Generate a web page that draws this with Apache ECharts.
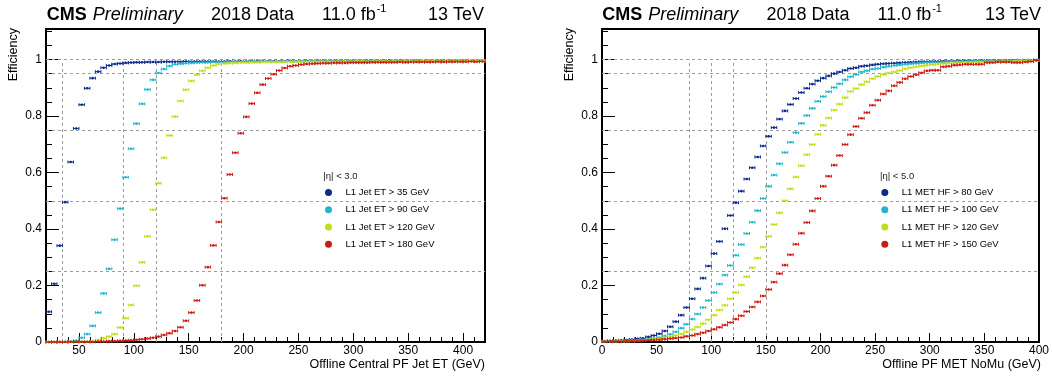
<!DOCTYPE html>
<html><head><meta charset="utf-8">
<script src="https://cdn.jsdelivr.net/npm/echarts@6/dist/echarts.min.js"></script>
<style>html,body{margin:0;padding:0;background:#fff}#c{width:1052px;height:378px}</style>
</head><body><div id="c"></div>
<script>
// ---------------- DATA ----------------
const jetX = [22.5,27.5,32.5,37.5,42.5,47.5,52.5,57.5,62.5,67.5,
72.5,77.5,82.5,87.5,92.5,97.5,102.5,107.5,112.5,117.5,
122.5,127.5,132.5,137.5,142.5,147.5,152.5,157.5,162.5,167.5,
172.5,177.5,182.5,187.5,192.5,197.5,202.5,207.5,212.5,217.5,
222.5,227.5,232.5,237.5,242.5,247.5,252.5,257.5,262.5,267.5,
272.5,277.5,282.5,287.5,292.5,297.5,302.5,307.5,312.5,317.5,
322.5,327.5,332.5,337.5,342.5,347.5,352.5,357.5,362.5,367.5,
372.5,377.5,382.5,387.5,392.5,397.5,402.5,407.5,412.5,417.5];
const jet35 = [0.107,0.206,0.341,0.495,0.637,0.756,0.840,0.898,0.934,0.957,
0.971,0.979,0.984,0.986,0.988,0.989,0.990,0.990,0.991,0.991,
0.991,0.992,0.992,0.992,0.992,0.993,0.992,0.993,0.993,0.993,
0.993,0.993,0.993,0.994,0.993,0.994,0.993,0.994,0.994,0.994,
0.994,0.994,0.994,0.994,0.995,0.994,0.994,0.995,0.994,0.995,
0.995,0.994,0.995,0.995,0.995,0.995,0.995,0.995,0.996,0.995,
0.995,0.995,0.996,0.995,0.996,0.995,0.996,0.996,0.995,0.996,
0.996,0.996,0.995,0.996,0.996,0.996,0.997,0.996,0.996,0.996];
const jet90 = [0.000,0.000,0.001,0.001,0.002,0.005,0.015,0.028,0.057,0.104,
0.172,0.259,0.362,0.472,0.583,0.684,0.773,0.843,0.894,0.928,
0.952,0.966,0.977,0.983,0.985,0.987,0.988,0.989,0.990,0.990,
0.991,0.991,0.991,0.992,0.992,0.992,0.992,0.993,0.992,0.993,
0.993,0.993,0.993,0.993,0.994,0.993,0.994,0.993,0.994,0.994,
0.994,0.994,0.994,0.994,0.995,0.994,0.995,0.994,0.995,0.995,
0.995,0.995,0.994,0.995,0.995,0.995,0.996,0.995,0.995,0.995,
0.996,0.995,0.995,0.996,0.995,0.996,0.996,0.996,0.995,0.996];
const jet120 = [0.000,0.000,0.000,0.000,0.000,0.001,0.001,0.001,0.002,0.007,
0.013,0.019,0.028,0.051,0.084,0.131,0.199,0.282,0.374,0.468,
0.562,0.652,0.731,0.798,0.853,0.893,0.924,0.946,0.960,0.971,
0.979,0.984,0.986,0.987,0.988,0.989,0.989,0.990,0.990,0.991,
0.991,0.991,0.991,0.992,0.992,0.992,0.992,0.993,0.992,0.993,
0.993,0.993,0.993,0.993,0.994,0.993,0.994,0.994,0.993,0.994,
0.994,0.994,0.994,0.995,0.994,0.994,0.995,0.994,0.995,0.995,
0.995,0.995,0.994,0.995,0.995,0.995,0.995,0.996,0.995,0.995];
const jet180 = [0.000,0.000,0.000,0.000,0.001,0.001,0.001,0.001,0.001,0.002,
0.002,0.003,0.003,0.004,0.005,0.006,0.008,0.010,0.012,0.015,
0.019,0.025,0.031,0.039,0.052,0.075,0.104,0.147,0.201,0.265,
0.342,0.425,0.509,0.593,0.670,0.739,0.797,0.844,0.882,0.911,
0.933,0.948,0.961,0.970,0.976,0.979,0.982,0.984,0.985,0.986,
0.987,0.987,0.988,0.988,0.988,0.989,0.989,0.989,0.989,0.990,
0.990,0.990,0.990,0.990,0.991,0.990,0.991,0.991,0.991,0.991,
0.991,0.992,0.991,0.992,0.992,0.992,0.992,0.993,0.992,0.993];

const metX = [2.5,7.5,12.5,17.5,22.5,27.5,32.5,37.5,42.5,47.5,
52.5,57.5,62.5,67.5,72.5,77.5,82.5,87.5,92.5,97.5,
102.5,107.5,112.5,117.5,122.5,127.5,132.5,137.5,142.5,147.5,
152.5,157.5,162.5,167.5,172.5,177.5,182.5,187.5,192.5,197.5,
202.5,207.5,212.5,217.5,222.5,227.5,232.5,237.5,242.5,247.5,
252.5,257.5,262.5,267.5,272.5,277.5,282.5,287.5,292.5,297.5,
302.5,307.5,312.5,317.5,322.5,327.5,332.5,337.5,342.5,347.5,
352.5,357.5,362.5,367.5,372.5,377.5,382.5,387.5,392.5,397.5];
const met80 = [0.003,0.004,0.005,0.006,0.007,0.009,0.011,0.013,0.018,0.023,
0.029,0.039,0.054,0.072,0.095,0.122,0.153,0.188,0.226,0.269,
0.313,0.356,0.401,0.448,0.493,0.534,0.577,0.617,0.655,0.694,
0.728,0.759,0.789,0.818,0.841,0.862,0.883,0.898,0.913,0.925,
0.934,0.942,0.950,0.956,0.962,0.968,0.971,0.976,0.978,0.981,
0.983,0.985,0.986,0.987,0.988,0.989,0.990,0.991,0.992,0.992,
0.993,0.993,0.994,0.994,0.994,0.995,0.995,0.995,0.995,0.996,
0.996,0.996,0.996,0.996,0.997,0.997,0.997,0.997,0.997,0.998];
const met100 = [0.002,0.002,0.003,0.003,0.004,0.005,0.006,0.008,0.010,0.013,
0.016,0.021,0.027,0.036,0.049,0.063,0.081,0.099,0.122,0.147,
0.175,0.205,0.237,0.271,0.307,0.345,0.384,0.424,0.465,0.508,
0.551,0.591,0.631,0.671,0.707,0.741,0.774,0.802,0.827,0.852,
0.869,0.886,0.901,0.914,0.928,0.939,0.947,0.956,0.960,0.966,
0.968,0.973,0.976,0.979,0.981,0.983,0.985,0.986,0.988,0.989,
0.990,0.990,0.991,0.992,0.992,0.993,0.993,0.994,0.994,0.994,
0.995,0.995,0.995,0.995,0.996,0.996,0.996,0.996,0.997,0.997];
const met120 = [0.002,0.002,0.002,0.003,0.003,0.004,0.005,0.006,0.008,0.010,
0.012,0.015,0.019,0.023,0.028,0.036,0.044,0.053,0.065,0.079,
0.095,0.113,0.130,0.153,0.175,0.202,0.231,0.263,0.297,0.336,
0.374,0.416,0.457,0.500,0.542,0.584,0.624,0.663,0.699,0.735,
0.767,0.793,0.821,0.842,0.865,0.887,0.897,0.911,0.921,0.932,
0.940,0.947,0.952,0.956,0.961,0.967,0.971,0.974,0.977,0.980,
0.982,0.984,0.986,0.987,0.988,0.989,0.990,0.990,0.991,0.992,
0.992,0.993,0.993,0.994,0.994,0.994,0.995,0.995,0.995,0.996];
const met150 = [0.001,0.002,0.002,0.002,0.003,0.003,0.004,0.005,0.006,0.007,
0.008,0.010,0.012,0.014,0.016,0.020,0.023,0.028,0.033,0.039,
0.045,0.052,0.060,0.069,0.081,0.093,0.108,0.124,0.142,0.163,
0.186,0.212,0.242,0.272,0.309,0.346,0.385,0.423,0.464,0.508,
0.551,0.587,0.626,0.660,0.699,0.734,0.763,0.792,0.812,0.838,
0.856,0.878,0.889,0.907,0.919,0.932,0.940,0.946,0.953,0.960,
0.962,0.962,0.974,0.976,0.980,0.981,0.983,0.983,0.983,0.983,
0.989,0.989,0.991,0.991,0.991,0.989,0.989,0.991,0.993,0.997];

const jetNames = ['L1 Jet ET > 35 GeV','L1 Jet ET > 90 GeV','L1 Jet ET > 120 GeV','L1 Jet ET > 180 GeV'];
const metNames = ['L1 MET HF > 80 GeV','L1 MET HF > 100 GeV','L1 MET HF > 120 GeV','L1 MET HF > 150 GeV'];
const jetThresholds = [35, 90, 120, 180];
const metThresholds = [80, 100, 120, 150];
const refLevels = [0.25, 0.5, 0.75, 0.95, 1.0];
const jetAxis = {min: 20, max: 420};
const metAxis = {min: 0, max: 400};
const BIN_WIDTH = 5;

// ---------------- STYLE ----------------
const FONT = '"Liberation Sans", Arial, Helvetica, sans-serif';
const COLORS = ['#0b2a8c', '#22b5cc', '#c3dc17', '#cd1c13'];
const YMAX = 1.108;

const chart = echarts.init(document.getElementById('c'), null, {renderer: 'canvas'});

function renderBar(params, api) {
  const x = api.value(0), y = api.value(1);
  const c = api.coord([x, y]);
  const l = api.coord([x - BIN_WIDTH / 2, y]);
  const r = api.coord([x + BIN_WIDTH / 2, y]);
  const color = api.visual('color');
  const st = {stroke: color, lineWidth: 1};
  return {type: 'group', children: [
    {type: 'line', shape: {x1: l[0], y1: c[1], x2: r[0], y2: c[1]}, style: st},
    {type: 'line', shape: {x1: l[0], y1: c[1] - 1.5, x2: l[0], y2: c[1] + 1.5}, style: st},
    {type: 'line', shape: {x1: r[0], y1: c[1] - 1.5, x2: r[0], y2: c[1] + 1.5}, style: st},
    {type: 'circle', shape: {cx: c[0], cy: c[1], r: 1.3}, style: {fill: color}}
  ]};
}

const grids = [
  {left: 46, top: 29, width: 439, height: 313},
  {left: 602, top: 29, width: 439, height: 313}
];

function majorX(gi, ext, extra) {
  return Object.assign({
    gridIndex: gi, type: 'value', min: ext.min, max: ext.max, position: 'bottom',
    axisLine: {show: true, onZero: false, lineStyle: {color: '#000', width: 2}},
    axisTick: {show: true, inside: true, length: 9, lineStyle: {color: '#000', width: 1}},
    axisLabel: {show: true, margin: 3, color: '#000', fontSize: 12, fontFamily: FONT,
      formatter: v => (Math.abs(v % 50) < 1e-6 ? String(v) : '')},
    splitLine: {show: false}
  }, extra);
}
function minorX(gi, ext) {
  return {gridIndex: gi, type: 'value', min: ext.min, max: ext.max, interval: 10, position: 'bottom',
    axisLine: {show: false, onZero: false}, axisLabel: {show: false}, splitLine: {show: false},
    axisTick: {show: true, inside: true, length: 5, lineStyle: {color: '#000', width: 1}}};
}
function majorY(gi) {
  return {gridIndex: gi, type: 'value', min: 0, max: YMAX, interval: 0.2, position: 'left',
    axisLine: {show: true, onZero: false, lineStyle: {color: '#000', width: 2}},
    axisTick: {show: true, inside: true, length: 13, lineStyle: {color: '#000', width: 1}},
    axisLabel: {show: true, margin: 4, color: '#000', fontSize: 12, fontFamily: FONT,
      formatter: v => (v > 1.0001 ? '' : String(Math.round(v * 10) / 10))},
    splitLine: {show: false}};
}
function minorY(gi) {
  return {gridIndex: gi, type: 'value', min: 0, max: YMAX, interval: 0.05, position: 'left',
    axisLine: {show: false, onZero: false}, axisLabel: {show: false}, splitLine: {show: false},
    axisTick: {show: true, inside: true, length: 6, lineStyle: {color: '#000', width: 1}}};
}

function refLines(thresholds) {
  return {
    silent: true, symbol: ['none', 'none'], z: 1, animation: false,
    label: {show: false}, emphasis: {disabled: true},
    lineStyle: {type: [3, 3], color: '#9b9b9b', width: 1},
    data: refLevels.map(v => ({yAxis: v})).concat(
      thresholds.map(t => [{coord: [t, 0]}, {coord: [t, 1]}]))
  };
}

function mkSeries(name, xs, ys, color, xi, yi, markLine) {
  const s = {
    name, type: 'custom', xAxisIndex: xi, yAxisIndex: yi, z: 3,
    itemStyle: {color}, renderItem: renderBar, encode: {x: 0, y: 1},
    data: xs.map((x, i) => [x, ys[i]]), animation: false, silent: true
  };
  if (markLine) s.markLine = markLine;
  return s;
}

const jetSets = [jet35, jet90, jet120, jet180];
const metSets = [met80, met100, met120, met150];
const series = [];
jetSets.forEach((d, i) => series.push(mkSeries(jetNames[i], jetX, d, COLORS[i], 0, 0, i === 0 ? refLines(jetThresholds) : null)));
metSets.forEach((d, i) => series.push(mkSeries(metNames[i], metX, d, COLORS[i], 2, 2, i === 0 ? refLines(metThresholds) : null)));

// text measurement for header layout
const mctx = document.createElement('canvas').getContext('2d');
function tw(text, font) { mctx.font = font; return mctx.measureText(text).width; }

const HS = 18;
function header(cmsX, dataX, lumiX, energyRight) {
  const fBold = 'bold ' + HS + 'px ' + FONT;
  const fIt = 'italic ' + HS + 'px ' + FONT;
  const fN = HS + 'px ' + FONT;
  const y = 15;
  const prelimX = cmsX + tw('CMS', fBold) + 6;
  const supX = lumiX + tw('11.0 fb', fN) + 1;
  const base = {fill: '#000', textVerticalAlign: 'middle', verticalAlign: 'middle'};
  return [
    {type: 'text', x: cmsX, y, style: Object.assign({text: 'CMS', font: fBold, textAlign: 'left', align: 'left'}, base)},
    {type: 'text', x: prelimX, y, style: Object.assign({text: 'Preliminary', font: fIt, textAlign: 'left', align: 'left'}, base)},
    {type: 'text', x: dataX, y, style: Object.assign({text: '2018 Data', font: fN, textAlign: 'left', align: 'left'}, base)},
    {type: 'text', x: lumiX, y, style: Object.assign({text: '11.0 fb', font: fN, textAlign: 'left', align: 'left'}, base)},
    {type: 'text', x: supX, y: 9, style: Object.assign({text: '-1', font: '11px ' + FONT, textAlign: 'left', align: 'left'}, base)},
    {type: 'text', x: energyRight, y, style: Object.assign({text: '13 TeV', font: fN, textAlign: 'right', align: 'right'}, base)}
  ];
}
function sideTexts(effX, xTitleRight, xTitle, legHeadX, legHead) {
  return [
    {type: 'text', x: effX, y: 28, rotation: Math.PI / 2,
      style: {text: 'Efficiency', font: '12.5px ' + FONT, fill: '#000', textAlign: 'right', align: 'right', textVerticalAlign: 'middle', verticalAlign: 'middle'}},
    {type: 'text', x: xTitleRight, y: 365,
      style: {text: xTitle, font: '12.5px ' + FONT, fill: '#000', textAlign: 'right', align: 'right', textVerticalAlign: 'middle', verticalAlign: 'middle'}},
    {type: 'text', x: legHeadX, y: 176,
      style: {text: legHead, font: '9.5px ' + FONT, fill: '#222', textAlign: 'left', align: 'left', textVerticalAlign: 'middle', verticalAlign: 'middle'}}
  ];
}

const graphics = [].concat(
  header(46.7, 211, 322, 484),
  header(602.3, 766.5, 877.5, 1041),
  sideTexts(13.5, 485, 'Offline Central PF Jet ET (GeV)', 323.3, '|η| < 3.0'),
  sideTexts(569.5, 1041, 'Offline PF MET NoMu (GeV)', 880, '|η| < 5.0')
);

function legend(names, left) {
  return {data: names.map(n => ({name: n, icon: 'circle'})), orient: 'vertical', left, top: 184,
    padding: 0, itemGap: 0, itemWidth: 24, itemHeight: 7, selectedMode: false,
    textStyle: {fontSize: 9.5, color: '#000', fontFamily: FONT, lineHeight: 17.2}};
}

chart.setOption({
  animation: false,
  backgroundColor: '#fff',
  grid: grids.map(g => Object.assign({show: true, borderColor: '#000', borderWidth: 2, backgroundColor: 'transparent', containLabel: false}, g)),
  xAxis: [
    majorX(0, jetAxis, {splitNumber: 8}),
    minorX(0, jetAxis),
    majorX(1, metAxis, {interval: 50}),
    minorX(1, metAxis)
  ],
  yAxis: [majorY(0), minorY(0), majorY(1), minorY(1)],
  legend: [legend(jetNames, 325), legend(metNames, 881.3)],
  graphic: {elements: graphics},
  series
});
</script></body></html>
